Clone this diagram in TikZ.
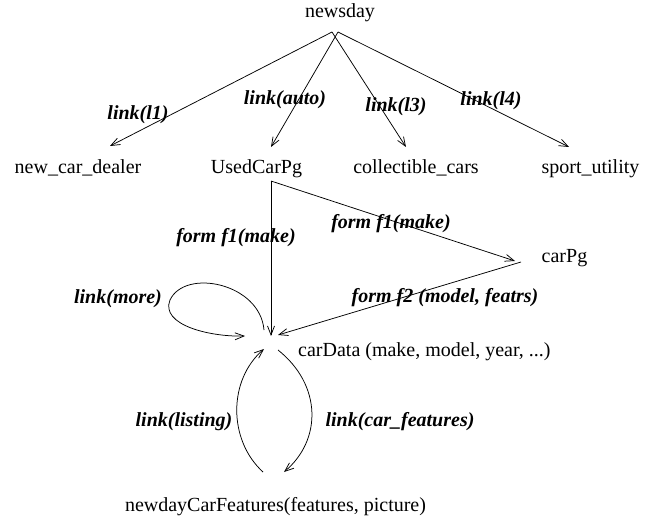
\documentclass[tikz,border=0pt]{standalone}
\usepackage{fontspec}
\setmainfont{Liberation Serif}
\usetikzlibrary{arrows.meta}
\tikzset{
  txt/.style={inner sep=0pt, anchor=base, font=\fontsize{20}{24}\selectfont},
  lbl/.style={inner sep=0pt, anchor=base, font=\fontsize{20}{24}\selectfont\bfseries\itshape},
  conn/.style={line width=0.75pt, -{Straight Barb[length=9pt,width=7pt,line width=0.75pt]}},
}
\begin{document}
\begin{tikzpicture}[x=1pt,y=-1pt]
\useasboundingbox (0,0) rectangle (657,519);
% nodes
\node[txt] (newsday) at (340,18) {newsday};
\node[txt] (ncd) at (78,174) {new\_car\_dealer};
\node[txt] (used) at (256.5,174) {UsedCarPg};
\node[txt] (coll) at (416,174) {collectible\_cars};
\node[txt] (sport) at (590.5,174) {sport\_utility};
\node[txt] (carpg) at (564.5,262) {carPg};
\node[txt, anchor=base west] (cardata) at (298,356) {carData (make, model, year, ...)};
\node[txt] (feat) at (275.5,511) {newdayCarFeatures(features, picture)};
% connector end points
\coordinate (nsL) at (332,32);
\coordinate (nsR) at (338,32);
\coordinate (ncdIn) at (110,146);
\coordinate (usedIn) at (271,147);
\coordinate (collIn) at (406,147);
\coordinate (sportIn) at (569,147);
\coordinate (usedOut) at (271,181);
\coordinate (carpgIn) at (515,261);
\coordinate (carpgOut) at (521,262);
\coordinate (cdInTop) at (271,336);
\coordinate (cdInRight) at (278,335);
\coordinate (moreOut) at (264,330);
\coordinate (moreIn) at (245,336);
\coordinate (cdOut) at (278,350);
\coordinate (cdInBottom) at (264,349);
\coordinate (featOut) at (263,472);
\coordinate (featIn) at (284,472);
% connectors
\draw[conn] (nsL) -- (ncdIn);
\draw[conn] (nsR) -- (usedIn);
\draw[conn] (nsL) -- (collIn);
\draw[conn] (nsR) -- (sportIn);
\draw[conn] (usedOut) -- (cdInTop);
\draw[conn] (usedOut) -- (carpgIn);
\draw[conn] (carpgOut) -- (cdInRight);
\draw[conn] (moreOut) .. controls (260,283) and (185,268) .. (170,300)
  .. controls (160,325) and (210,337) .. (moreIn);
\draw[conn] (featOut) .. controls (228,440) and (228,380) .. (cdInBottom);
\draw[conn] (cdOut) .. controls (322,385) and (322,440) .. (featIn);
% labels
\node[lbl] (l1) at (138,120) {link(l1)};
\node[lbl] (lauto) at (285,105) {link(auto)};
\node[lbl] (l3) at (396,112) {link(l3)};
\node[lbl] (l4) at (491,106) {link(l4)};
\node[lbl] (f1a) at (236,242) {form f1(make)};
\node[lbl] (f1b) at (391,228) {form f1(make)};
\node[lbl] (f2) at (445,302) {form f2 (model, featrs)};
\node[lbl] (more) at (118,303) {link(more)};
\node[lbl] (listing) at (184,426) {link(listing)};
\node[lbl] (carf) at (400,426) {link(car\_features)};
\end{tikzpicture}
\end{document}
